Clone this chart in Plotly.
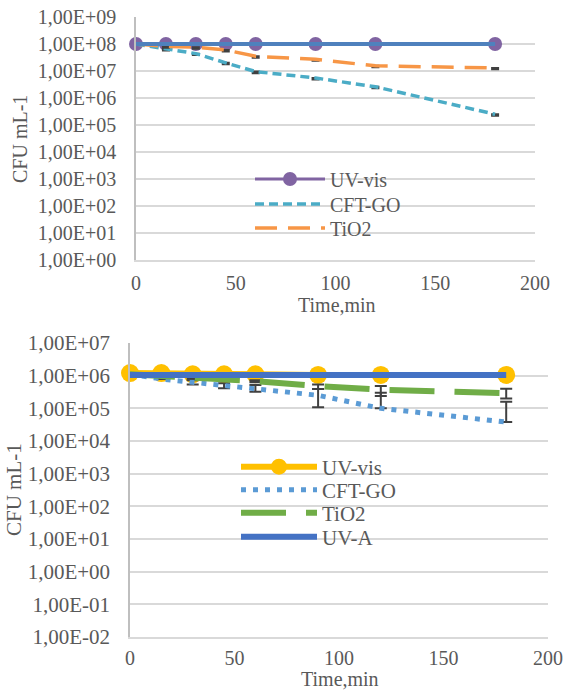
import plotly.graph_objects as go

# Sampling times (min)
time_min = [0, 15, 30, 45, 60, 90, 120, 180]

# Upper panel: CFU mL-1
top_uvvis = [1.0e8, 1.0e8, 1.0e8, 1.0e8, 1.0e8, 1.0e8, 1.0e8, 1.0e8]
top_uva = [1.0e8, 1.0e8, 1.0e8, 1.0e8, 1.0e8, 1.0e8, 1.0e8, 1.0e8]
top_cftgo = [1.0e8, 6.6e7, 4.4e7, 2.0e7, 9.5e6, 5.5e6, 2.6e6, 2.5e5]
top_tio2 = [1.0e8, 8.2e7, 7.6e7, 6.0e7, 3.5e7, 2.7e7, 1.55e7, 1.3e7]
top_cftgo_err = [0, 8.0e6, 5.0e6, 2.4e6, 1.2e6, 6.5e5, 3.0e5, 3.0e4]
top_tio2_err = [0, 1.0e7, 9.0e6, 7.0e6, 4.0e6, 3.0e6, 1.8e6, 1.5e6]

# Lower panel: CFU mL-1
bot_uvvis = [1.2e6, 1.2e6, 1.1e6, 1.1e6, 1.1e6, 1.05e6, 1.05e6, 1.05e6]
bot_cftgo = [1.1e6, 7.9e5, 6.3e5, 5.0e5, 4.1e5, 2.5e5, 1.0e5, 3.8e4]
bot_tio2 = [1.1e6, 1.0e6, 8.5e5, 7.6e5, 6.8e5, 4.8e5, 3.7e5, 2.9e5]
bot_uva = [1.05e6, 1.05e6, 1.05e6, 1.05e6, 1.05e6, 1.05e6, 1.05e6, 1.05e6]
bot_cftgo_err_plus = [0, 0, 1.0e5, 0.9e5, 1.1e5, 1.4e5, 2.0e5, 1.2e5]
bot_cftgo_err_minus = [0, 0, 0.9e5, 0.9e5, 0.9e5, 1.43e5, 0, 0]
bot_tio2_err_plus = [0, 0, 0.4e5, 0.4e5, 0.5e5, 0.6e5, 1.1e5, 1.1e5]
bot_tio2_err_minus = [0, 0, 0.4e5, 0.4e5, 0.5e5, 0.9e5, 1.3e5, 0.9e5]

top_exponents = [0, 1, 2, 3, 4, 5, 6, 7, 8, 9]
top_ticktext = ["1,00E+00", "1,00E+01", "1,00E+02", "1,00E+03", "1,00E+04",
                "1,00E+05", "1,00E+06", "1,00E+07", "1,00E+08", "1,00E+09"]
bot_exponents = [-2, -1, 0, 1, 2, 3, 4, 5, 6, 7]
bot_ticktext = ["1,00E-02", "1,00E-01", "1,00E+00", "1,00E+01", "1,00E+02",
                "1,00E+03", "1,00E+04", "1,00E+05", "1,00E+06", "1,00E+07"]
x_ticks = [0, 50, 100, 150, 200]

W, H = 566, 690
FONT = "Liberation Serif, Times New Roman, serif"
TXT = "#595959"
GRID = "#D9D9D9"
AXIS = "#BFBFBF"
ERR = "#404040"


def px_x(p):
    return p / W


def px_y(p):
    return 1 - p / H


fig = go.Figure()

# ---- upper panel ----
fig.add_trace(go.Scatter(
    x=time_min, y=top_uvvis, name="UV-vis", mode="lines+markers",
    line=dict(color="#8064A2", width=3), marker=dict(size=14, color="#8064A2"),
    cliponaxis=False, xaxis="x", yaxis="y", legend="legend"))
fig.add_trace(go.Scatter(
    x=time_min, y=top_cftgo, name="CFT-GO", mode="lines",
    line=dict(color="#4BACC6", width=3.5, dash="9px,5px"),
    error_y=dict(type="data", symmetric=False, array=[0] * 8, arrayminus=top_cftgo_err,
                 color=ERR, thickness=2, width=4),
    xaxis="x", yaxis="y", legend="legend2"))
fig.add_trace(go.Scatter(
    x=time_min, y=top_tio2, name="TiO2", mode="lines",
    line=dict(color="#F79646", width=3.5, dash="22px,11px"),
    error_y=dict(type="data", symmetric=False, array=[0] * 8, arrayminus=top_tio2_err,
                 color=ERR, thickness=2, width=4),
    xaxis="x", yaxis="y", legend="legend3"))
fig.add_trace(go.Scatter(
    x=time_min, y=top_uva, name="UV-A", mode="lines", showlegend=False,
    line=dict(color="#4F81BD", width=4), xaxis="x", yaxis="y"))

# ---- lower panel ----
fig.add_trace(go.Scatter(
    x=time_min, y=bot_uvvis, name="UV-vis", mode="lines+markers",
    line=dict(color="#FFC000", width=6), marker=dict(size=18, color="#FFC000"),
    cliponaxis=False, xaxis="x2", yaxis="y2", legend="legend4"))
fig.add_trace(go.Scatter(
    x=time_min, y=bot_cftgo, name="CFT-GO", mode="lines",
    line=dict(color="#5B9BD5", width=5, dash="5px,7px"),
    error_y=dict(type="data", symmetric=False, array=bot_cftgo_err_plus,
                 arrayminus=bot_cftgo_err_minus, color=ERR, thickness=2, width=6),
    xaxis="x2", yaxis="y2", legend="legend5"))
fig.add_trace(go.Scatter(
    x=time_min, y=bot_tio2, name="TiO2", mode="lines",
    line=dict(color="#70AD47", width=6, dash="45px,20px"),
    error_y=dict(type="data", symmetric=False, array=bot_tio2_err_plus,
                 arrayminus=bot_tio2_err_minus, color=ERR, thickness=2, width=6),
    xaxis="x2", yaxis="y2", legend="legend6"))
fig.add_trace(go.Scatter(
    x=time_min, y=bot_uva, name="UV-A", mode="lines",
    line=dict(color="#4472C4", width=6), xaxis="x2", yaxis="y2", legend="legend7"))

xcommon = dict(range=[0, 200], tickvals=x_ticks, showgrid=False, zeroline=False,
               showline=True, linecolor=GRID, linewidth=1.5, ticks="", automargin=False)
ycommon = dict(type="log", showgrid=True, gridcolor=GRID, gridwidth=1.5, zeroline=False,
               showline=True, linecolor=AXIS, linewidth=1.5, ticks="", automargin=False)

layout = dict(
    width=W, height=H, margin=dict(l=0, r=0, t=0, b=0, autoexpand=False),
    paper_bgcolor="white", plot_bgcolor="white",
    font=dict(family=FONT, color=TXT, size=20),
    xaxis=dict(xcommon, domain=[px_x(136), px_x(535)], anchor="y",
               tickfont=dict(family=FONT, size=20), ticklabelstandoff=4),
    yaxis=dict(ycommon, domain=[px_y(260), px_y(17)], anchor="x",
               range=[0, 9], tickvals=[10 ** e for e in top_exponents], ticktext=top_ticktext,
               tickfont=dict(family=FONT, size=20), ticklabelstandoff=14),
    xaxis2=dict(xcommon, domain=[px_x(130), px_x(548)], anchor="y2",
                tickfont=dict(family=FONT, size=20), ticklabelstandoff=2),
    yaxis2=dict(ycommon, domain=[px_y(637), px_y(343)], anchor="x2",
                range=[-2, 7], tickvals=[10.0 ** e for e in bot_exponents], ticktext=bot_ticktext,
                tickfont=dict(family=FONT, size=21), ticklabelstandoff=14),
)

# one legend box per entry so each row sits at its own height
top_rows = [179, 204, 228]
bot_rows = [467, 490, 513, 537]
legend_names = ["legend", "legend2", "legend3", "legend4", "legend5", "legend6", "legend7"]
rows = [(250, r, 20, 70) for r in top_rows] + [(236, r, 21, 76) for r in bot_rows]
for name, (lx, ly, fs, iw) in zip(legend_names, rows):
    layout[name] = dict(x=px_x(lx), y=px_y(ly), xanchor="left", yanchor="middle",
                        bgcolor="rgba(0,0,0,0)", borderwidth=0, itemwidth=iw,
                        font=dict(family=FONT, color=TXT, size=fs))

fig.update_layout(**layout)

annotations = [
    dict(text="Time,min", x=px_x(337), y=px_y(305), font=dict(size=20)),
    dict(text="CFU mL-1", x=px_x(20), y=px_y(139), textangle=-90, font=dict(size=20)),
    dict(text="Time,min", x=px_x(340), y=px_y(679), font=dict(size=20)),
    dict(text="CFU mL-1", x=px_x(14), y=px_y(490), textangle=-90, font=dict(size=21)),
]
for a in annotations:
    fig.add_annotation(xref="paper", yref="paper", showarrow=False,
                       xanchor="center", yanchor="middle",
                       font_family=FONT, font_color=TXT, **a)

fig.write_html("out.html")
